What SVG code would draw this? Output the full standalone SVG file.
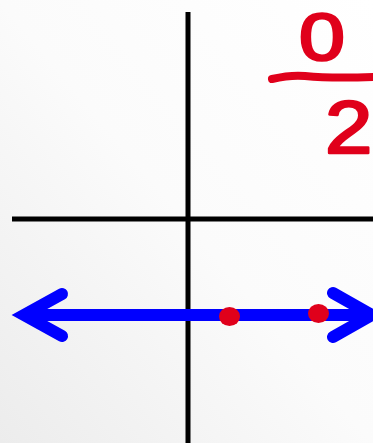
<svg xmlns="http://www.w3.org/2000/svg" width="373" height="443" viewBox="0 0 373 443">
  <defs>
    <linearGradient id="bg" x1="1" y1="0" x2="0" y2="1">
      <stop offset="0" stop-color="#ffffff"/>
      <stop offset="0.5" stop-color="#fbfbfb"/>
      <stop offset="1" stop-color="#ececec"/>
    </linearGradient>
  </defs>
  <style>
    .axis { stroke: #000; stroke-width: 5; fill: none; }
    .blue { stroke: #0000ff; stroke-width: 12; fill: none; stroke-linecap: round; stroke-linejoin: miter; stroke-miterlimit: 10; }
    .red { fill: #e0001b; }
    .redline { stroke: #e0001b; stroke-width: 8; fill: none; stroke-linecap: round; }
    .hand { font-family: "Liberation Sans", Arial, sans-serif; fill: #e0001b; stroke: #e0001b; stroke-width: 2.5; stroke-linejoin: round; }
  </style>
  <rect width="373" height="443" fill="url(#bg)"/>
  <g id="axes">
    <line class="axis" x1="188" y1="12" x2="188" y2="443"/>
    <line class="axis" x1="12" y1="219" x2="373" y2="219"/>
  </g>
  <g id="number-line">
    <line class="blue" x1="26" y1="315" x2="373" y2="315" style="stroke-linecap:butt"/>
    <polyline class="blue" points="62,294 24,315 62,336"/>
    <polyline class="blue" points="333,293 372,315 333,337"/>
  </g>
  <g id="points">
    <ellipse class="red" cx="229.5" cy="316.5" rx="10.5" ry="9.5"/>
    <ellipse class="red" cx="318.5" cy="313.5" rx="10.5" ry="9.5"/>
  </g>
  <g id="fraction">
    <text class="hand" font-size="66" transform="translate(299,60) scale(1.25,1)">0</text>
    <path class="redline" d="M272,79 C285,76 295,75 305,76 C325,78 345,78 373,77"/>
    <text class="hand" font-size="74" transform="translate(325,153) scale(1.15,1)">2</text>
  </g>
</svg>
